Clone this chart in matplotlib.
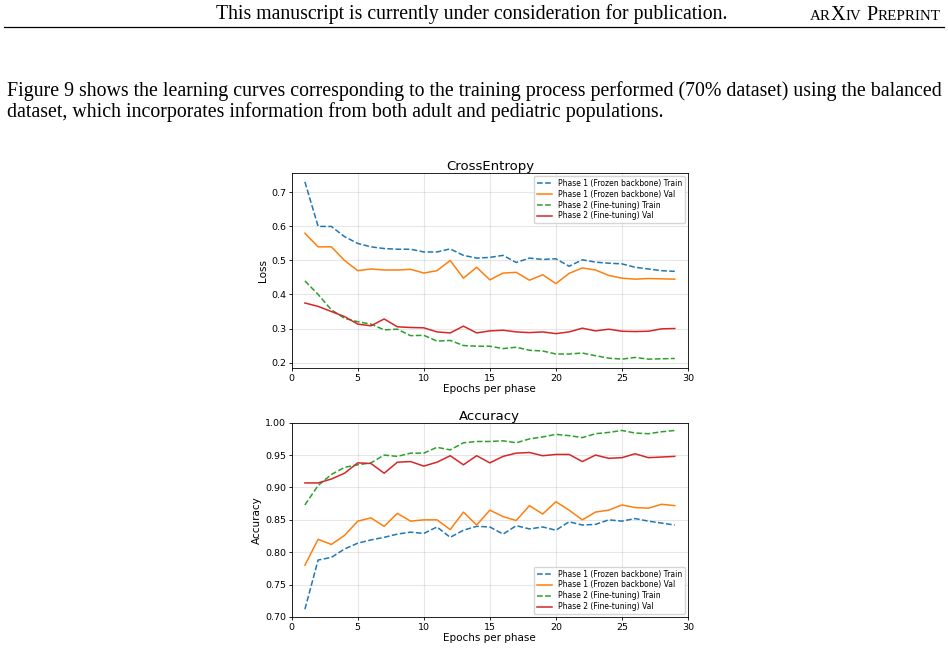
import numpy as np
import matplotlib
matplotlib.use('Agg')
import matplotlib.pyplot as plt

EPOCHS = list(range(1, 30))
SERIES_LABELS = ['Phase 1 (Frozen backbone) Train', 'Phase 1 (Frozen backbone) Val',
                 'Phase 2 (Fine-tuning) Train', 'Phase 2 (Fine-tuning) Val']

loss_p1_train = [0.731, 0.600, 0.600, 0.570, 0.550, 0.540, 0.535, 0.533, 0.533, 0.525,
                 0.525, 0.534, 0.515, 0.507, 0.509, 0.515, 0.494, 0.507, 0.503, 0.505,
                 0.483, 0.502, 0.495, 0.492, 0.490, 0.480, 0.475, 0.470, 0.468]
loss_p1_val = [0.580, 0.540, 0.540, 0.500, 0.470, 0.475, 0.472, 0.472, 0.474, 0.463,
               0.470, 0.500, 0.448, 0.480, 0.443, 0.463, 0.465, 0.442, 0.458, 0.432,
               0.462, 0.478, 0.472, 0.456, 0.448, 0.445, 0.447, 0.446, 0.445]
loss_p2_train = [0.440, 0.400, 0.355, 0.330, 0.320, 0.313, 0.296, 0.298, 0.279, 0.280,
                 0.263, 0.265, 0.250, 0.248, 0.248, 0.241, 0.245, 0.236, 0.234, 0.225,
                 0.225, 0.228, 0.220, 0.213, 0.210, 0.215, 0.210, 0.211, 0.212]
loss_p2_val = [0.375, 0.365, 0.350, 0.335, 0.313, 0.308, 0.328, 0.305, 0.303, 0.302,
               0.290, 0.287, 0.307, 0.287, 0.293, 0.295, 0.290, 0.288, 0.290, 0.285,
               0.290, 0.301, 0.293, 0.298, 0.292, 0.291, 0.292, 0.299, 0.300]

acc_p1_train = [0.712, 0.788, 0.792, 0.805, 0.814, 0.819, 0.823, 0.828, 0.831, 0.829,
                0.839, 0.823, 0.834, 0.840, 0.839, 0.828, 0.841, 0.836, 0.839, 0.834,
                0.847, 0.842, 0.843, 0.850, 0.848, 0.852, 0.848, 0.845, 0.842]
acc_p1_val = [0.780, 0.820, 0.812, 0.826, 0.848, 0.853, 0.840, 0.860, 0.848, 0.850,
              0.850, 0.835, 0.862, 0.842, 0.865, 0.855, 0.849, 0.872, 0.859, 0.878,
              0.865, 0.850, 0.862, 0.865, 0.873, 0.869, 0.868, 0.874, 0.872]
acc_p2_train = [0.873, 0.903, 0.920, 0.931, 0.935, 0.938, 0.950, 0.948, 0.953, 0.953,
                0.962, 0.958, 0.969, 0.971, 0.971, 0.972, 0.969, 0.975, 0.978, 0.982,
                0.980, 0.977, 0.983, 0.985, 0.988, 0.984, 0.983, 0.986, 0.988]
acc_p2_val = [0.907, 0.907, 0.913, 0.922, 0.938, 0.937, 0.922, 0.939, 0.940, 0.933,
              0.939, 0.949, 0.935, 0.949, 0.938, 0.948, 0.953, 0.954, 0.949, 0.951,
              0.951, 0.940, 0.950, 0.945, 0.946, 0.952, 0.946, 0.947, 0.948]

HEADER = 'This manuscript is currently under consideration for publication.'
PARAGRAPH = ['Figure 9 shows the learning curves corresponding to the training process performed (70% dataset) using the balanced',
             'dataset, which incorporates information from both adult and pediatric populations.']

SERIF = ['Liberation Serif', 'DejaVu Serif']

fig = plt.figure(figsize=(9.48, 6.5), dpi=100)
W, H = 948, 650


def fx(px):
    return px / W


def fy(py):
    return 1 - py / H


# page header
fig.text(fx(472), fy(19.5), HEADER, family=SERIF, fontsize=14.2, ha='center', va='baseline')
renderer = fig.canvas.get_renderer()
# small caps "arXiv Preprint", laid out right to left
pieces = [('AR', 10.8), ('X', 14.6), ('IV', 10.8), (' ', 14.6), ('P', 14.6), ('REPRINT', 10.8)]
x = 940
for txt, size in reversed(pieces):
    t = fig.text(fx(x), fy(19.5), txt, family=SERIF, fontsize=size, ha='right', va='baseline')
    x -= t.get_window_extent(renderer).width
fig.add_artist(plt.Line2D([fx(4), fx(944)], [fy(27), fy(27)], color='black', lw=0.9))

for i, line in enumerate(PARAGRAPH):
    fig.text(fx(7), fy(91 + i * 21), line, family=SERIF, fontsize=14.3, ha='left', va='center')

colors = ['#1f77b4', '#ff7f0e', '#2ca02c', '#d62728']
styles = ['--', '-', '--', '-']


def panel(ax, data, title, ylabel, legend_loc):
    for vals, c, ls, lab in zip(data, colors, styles, SERIES_LABELS):
        ax.plot(EPOCHS, vals, ls, color=c, label=lab, lw=1.1)
    ax.set_xlim(0, 30)
    ax.set_title(title, fontsize=9.5, pad=2)
    ax.set_ylabel(ylabel, fontsize=7.5, labelpad=2)
    ax.set_xlabel('Epochs per phase', fontsize=7.5, labelpad=1)
    ax.tick_params(labelsize=6.8, length=2.5, width=0.6, pad=1.5)
    ax.grid(True, alpha=0.3)
    for s in ax.spines.values():
        s.set_linewidth(0.6)
    ax.legend(loc=legend_loc, fontsize=5.5, handlelength=2.0, handletextpad=0.8,
              borderpad=0.35, labelspacing=0.25, framealpha=0.8, borderaxespad=0.4)


ax1 = fig.add_axes([fx(291.7), fy(368), fx(688) - fx(291.7), (368 - 173) / H])
panel(ax1, [loss_p1_train, loss_p1_val, loss_p2_train, loss_p2_val], 'CrossEntropy', 'Loss', 'upper right')
ax1.set_yticks(np.arange(0.2, 0.71, 0.1))

ax2 = fig.add_axes([fx(291.7), fy(617), fx(688) - fx(291.7), (617 - 422.7) / H])
panel(ax2, [acc_p1_train, acc_p1_val, acc_p2_train, acc_p2_val], 'Accuracy', 'Accuracy', 'lower right')
ax2.set_ylim(0.70, 1.00)

fig.savefig('out.png', dpi=100)
